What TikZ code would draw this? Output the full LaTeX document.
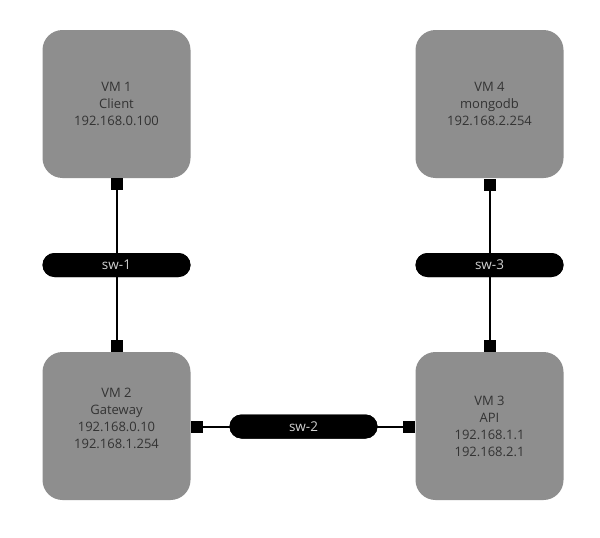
\documentclass[tikz,border=0pt]{standalone}
\usepackage{fontspec}
\setmainfont{Open Sans}
\begin{document}
\begin{tikzpicture}[x=1pt,y=-1pt,
  vm/.style={fill=vmgray, draw=none, minimum width=148pt, minimum height=148pt,
    rounded corners=20pt, align=center, text=vmtext, inner sep=0pt,
    font=\fontsize{13}{17}\selectfont},
  sw/.style={fill=black, draw=none, minimum width=148pt, minimum height=24pt,
    rounded corners=12pt, text=swtext, inner sep=0pt, font=\fontsize{13.5}{15}\selectfont},
  port/.style={fill=black, draw=none, minimum width=12pt, minimum height=12pt, inner sep=0pt},
  link/.style={line width=2pt, black}]
\definecolor{vmgray}{HTML}{8E8E8E}
\definecolor{vmtext}{HTML}{333333}
\definecolor{swtext}{HTML}{D2D2D2}
\useasboundingbox (0,0) rectangle (600,538);
\fill[white] (0,0) rectangle (600,538);
% links (behind)
\coordinate (c1) at (116.5,184);
\coordinate (c2) at (116.5,346);
\coordinate (c2r) at (197,426.5);
\coordinate (c3l) at (409,426.5);
\coordinate (c3t) at (489.5,346);
\coordinate (c4) at (489.5,184.5);
\node[sw] (sw1) at (116.5,265) {};
\node[sw] (sw2) at (303.5,426.5) {};
\node[sw] (sw3) at (489.5,265) {};
\draw[link] (c1) -- (sw1.center) -- (c2);
\draw[link] (c2r) -- (sw2.center) -- (c3l);
\draw[link] (c4) -- (sw3.center) -- (c3t);
% switches on top
\node[sw] at (sw1) {sw-1};
\node[sw] at (sw2) {sw-2};
\node[sw] at (sw3) {sw-3};
% VMs
\node[vm] (vm1) at (116.5,104) {VM 1\\Client\\192.168.0.100};
\node[vm] (vm2) at (116.5,426) {VM 2\\Gateway\\192.168.0.10\\192.168.1.254\\[-2pt]};
\node[vm] (vm3) at (489.5,426) {VM 3\\API\\192.168.1.1\\192.168.2.1};
\node[vm] (vm4) at (489.5,104) {VM 4\\mongodb\\192.168.2.254};
% ports
\node[port] (p1) at (c1) {};
\node[port] (p2) at (c2) {};
\node[port] (p2r) at (c2r) {};
\node[port] (p3l) at (c3l) {};
\node[port] (p3t) at (c3t) {};
\node[port] (p4) at (c4) {};
\end{tikzpicture}
\end{document}
